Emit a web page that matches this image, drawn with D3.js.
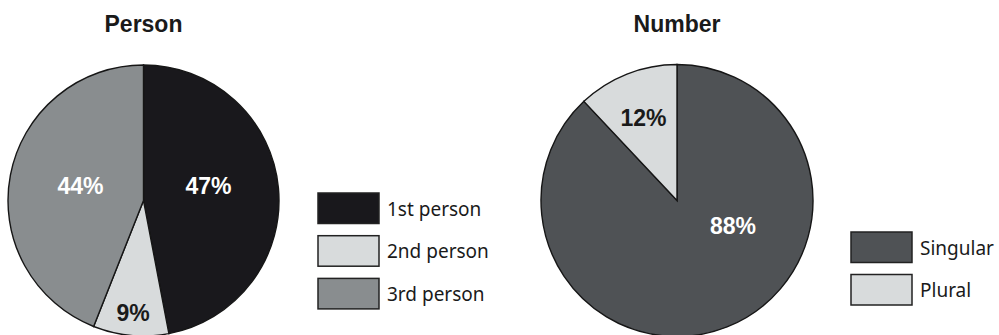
<!DOCTYPE html>
<html>
<head>
<meta charset="utf-8">
<script src="https://cdn.jsdelivr.net/npm/d3@7"></script>
<style>
  body { margin: 0; background: #fff; }
</style>
</head>
<body>
<div id="chart"></div>
<script>
// data
const personLabels = ['1st person', '2nd person', '3rd person'];
const personValues = [47, 9, 44];
const numberLabels = ['Singular', 'Plural'];
const numberValues = [88, 12];

const width = 999,
  height = 335;

const svg = d3.select('#chart').append('svg')
  .attr('width', width)
  .attr('height', height);

const pie = d3.pie().sort(null).value((d) => d.value);

// layout for each chart
const charts = [
  {
    title: 'Person', cx: 143.5, cy: 200.5, r: 135.5,
    labels: personLabels, values: personValues,
    colors: ['#19181c', '#d8dbdc', '#898d8f'],
    textColors: ['#fff', '#1a1a1a', '#fff'],
    spots: [[66.6, 77.4], [113, 185.3], [64.6, 283]],
    legendX: 318, legendY: 193, legendStep: 42.7
  },
  {
    title: 'Number', cx: 677, cy: 200.5, r: 136,
    labels: numberLabels, values: numberValues,
    colors: ['#4f5255', '#d8dbdc'],
    textColors: ['#fff', '#1a1a1a'],
    spots: [[61.5, 114.5], [89, 337.9]],
    legendX: 851, legendY: 232, legendStep: 42.5
  }
];

charts.forEach((c) => {
  const rows = c.values.map((v, i) => ({ label: c.labels[i], value: v, i }));
  const arcs = pie(rows);
  const arc = d3.arc().innerRadius(0).outerRadius(c.r);

  svg.append('text')
      .attr('x', c.cx)
      .attr('y', 31.5)
      .attr('text-anchor', 'middle')
      .style('font-family', 'Liberation Sans, Arial, sans-serif')
      .style('font-weight', 'bold')
      .style('font-size', '23px')
      .style('fill', '#1a1a1a')
      .text(c.title);

  const g = svg.append('g')
      .attr('transform', `translate(${c.cx},${c.cy})`);

  g.selectAll('path')
    .data(arcs)
    .enter().append('path')
      .attr('d', arc)
      .style('fill', (d) => c.colors[d.data.i])
      .style('stroke', '#161616')
      .style('stroke-width', 1.4);

  g.selectAll('text.pct')
    .data(arcs)
    .enter().append('text')
      .attr('class', 'pct')
      .attr('transform', (d) => {
        const [rr, deg] = c.spots[d.data.i];
        const a = deg * Math.PI / 180;
        return `translate(${rr * Math.sin(a)},${-rr * Math.cos(a)})`;
      })
      .attr('dy', '0.35em')
      .attr('text-anchor', 'middle')
      .style('font-family', 'Liberation Sans, Arial, sans-serif')
      .style('font-weight', 'bold')
      .style('font-size', '23px')
      .style('fill', (d) => c.textColors[d.data.i])
      .text((d) => `${d.data.value}%`);

  const leg = svg.append('g')
    .selectAll('g')
    .data(rows)
    .enter().append('g')
      .attr('transform', (d) => `translate(${c.legendX},${c.legendY + d.i * c.legendStep})`);

  leg.append('rect')
      .attr('width', 61)
      .attr('height', 30.5)
      .style('fill', (d) => c.colors[d.i])
      .style('stroke', '#222')
      .style('stroke-width', 1.5);

  leg.append('text')
      .attr('x', 69)
      .attr('y', 22.5)
      .style('font-family', 'Noto Sans, sans-serif')
      .style('font-size', '19px')
      .style('fill', '#1a1a1a')
      .text((d) => d.label);
});
</script>
</body>
</html>
